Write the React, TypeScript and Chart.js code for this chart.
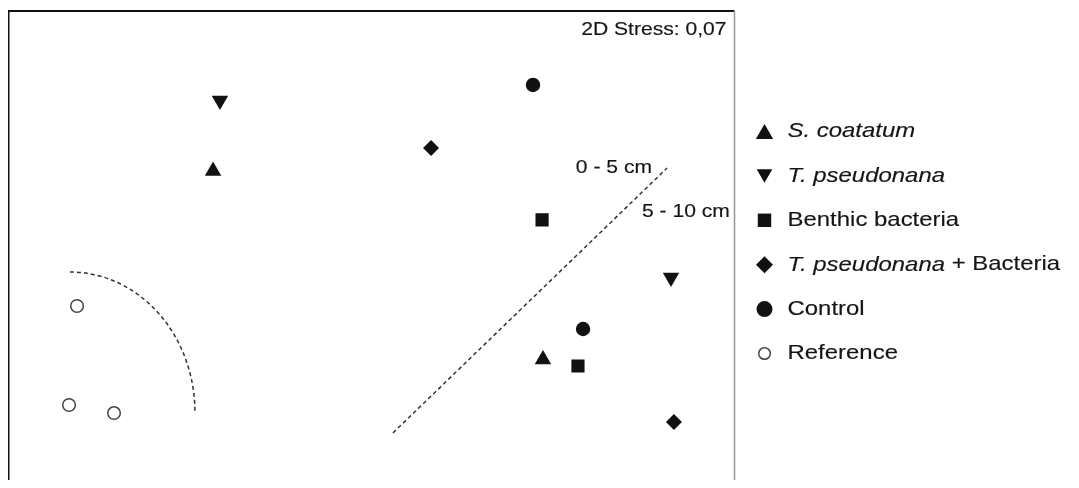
import React, { useEffect, useRef } from 'react';
import { Chart, registerables } from 'chart.js';
import { drawPoint } from 'chart.js/helpers';

Chart.register(...registerables);

// NMDS coordinates (arbitrary units)
const sCoatatum = [{ x: -0.875, y: 0.43 }, { x: 0.944, y: -0.595 }];
const tPseudonana = [{ x: -0.837, y: 0.813 }, { x: 1.65, y: -0.149 }];
const benthicBacteria = [{ x: 0.939, y: 0.164 }, { x: 1.137, y: -0.63 }];
const tpPlusBacteria = [{ x: 0.327, y: 0.555 }, { x: 1.666, y: -0.935 }];
const control = [{ x: 0.889, y: 0.898 }, { x: 1.165, y: -0.429 }];
const reference = [{ x: -1.625, y: -0.304 }, { x: -1.669, y: -0.842 }, { x: -1.421, y: -0.886 }];

// depth separation line (0-5 cm / 5-10 cm)
const depthLine = [{ x: 0.117, y: -0.994 }, { x: 1.628, y: 0.446 }];
// reference group boundary: quarter ellipse (center, radii in data units)
const refArc = { cx: -1.664, cy: -0.88, rx: 0.689, ry: 0.761 };

const stressLabel = '2D Stress: 0,07';
const depthLabels = ['0 - 5 cm', '5 - 10 cm'];

const legendParts = [
  [{ t: 'S. coatatum', i: true }],
  [{ t: 'T. pseudonana', i: true }],
  [{ t: 'Benthic bacteria', i: false }],
  [{ t: 'T. pseudonana', i: true }, { t: ' + Bacteria', i: false }],
  [{ t: 'Control', i: false }],
  [{ t: 'Reference', i: false }],
];
const legendMarkerRadius = [10, 9, 9.5, 8.5, 8, 5.8];

const FONT = '"Liberation Sans", Arial, sans-serif';
const STRETCH = 1.14;
const TEXT_COLOR = '#151515';

function stretchedText(ctx: CanvasRenderingContext2D, text: string, x: number, y: number, font: string, align: CanvasTextAlign) {
  ctx.save();
  ctx.font = font;
  ctx.fillStyle = TEXT_COLOR;
  ctx.strokeStyle = TEXT_COLOR;
  ctx.lineWidth = 0.15;
  ctx.textBaseline = 'middle';
  ctx.textAlign = align;
  ctx.translate(x, y);
  ctx.scale(STRETCH, 1);
  ctx.fillText(text, 0, 0);
  ctx.strokeText(text, 0, 0);
  const w = ctx.measureText(text).width * STRETCH;
  ctx.restore();
  return w;
}

const decorPlugin = {
  id: 'decor',
  afterDatasetsDraw(chart: any) {
    const ctx: CanvasRenderingContext2D = chart.ctx;
    const { left, top, right } = chart.chartArea;
    const xs = chart.scales.x;
    const ys = chart.scales.y;

    // frame (top, left, right)
    ctx.save();
    ctx.strokeStyle = '#111';
    ctx.lineWidth = 2;
    ctx.beginPath();
    ctx.moveTo(left - 0.5, chart.height + 5);
    ctx.lineTo(left - 0.5, top);
    ctx.lineTo(right, top);
    ctx.stroke();
    ctx.strokeStyle = '#999';
    ctx.lineWidth = 1.5;
    ctx.beginPath();
    ctx.moveTo(right, top);
    ctx.lineTo(right, chart.height + 5);
    ctx.stroke();
    ctx.restore();

    // reference arc
    ctx.save();
    ctx.strokeStyle = '#333';
    ctx.lineWidth = 1.5;
    ctx.setLineDash([4, 3]);
    const cx = xs.getPixelForValue(refArc.cx);
    const cy = ys.getPixelForValue(refArc.cy);
    const rx = xs.getPixelForValue(refArc.cx + refArc.rx) - cx;
    const ry = cy - ys.getPixelForValue(refArc.cy + refArc.ry);
    ctx.beginPath();
    ctx.ellipse(cx, cy, rx, ry, 0, -Math.PI / 2, 0);
    ctx.stroke();
    ctx.restore();

    // annotations
    const smallFont = `18.5px ${FONT}`;
    stretchedText(ctx, stressLabel, right - 8, top + 19, smallFont, 'right');
    const ex = xs.getPixelForValue(depthLine[1].x);
    const ey = ys.getPixelForValue(depthLine[1].y);
    stretchedText(ctx, depthLabels[0], ex - 15, ey, smallFont, 'right');
    stretchedText(ctx, depthLabels[1], ex - 25, ey + 44, smallFont, 'left');

    // legend
    const lx = right + 30;
    const ly0 = top + 120.5;
    const step = 44.4;
    const pointSets = chart.data.datasets.filter((d: any) => d.isGroup);
    pointSets.forEach((ds: any, i: number) => {
      const y = ly0 + i * step;
      ctx.save();
      ctx.fillStyle = ds.backgroundColor;
      ctx.strokeStyle = ds.borderColor;
      ctx.lineWidth = ds.borderWidth;
      const r = legendMarkerRadius[i];
      const dy = ds.pointStyle === 'triangle' ? (ds.rotation ? -r / 4 : r / 4) : 0;
      drawPoint(ctx, { pointStyle: ds.pointStyle, rotation: ds.rotation || 0, radius: r, borderWidth: ds.borderWidth }, lx, y + dy);
      ctx.restore();
      let tx = lx + 23;
      legendParts[i].forEach((p) => {
        const f = `${p.i ? 'italic ' : ''}21px ${FONT}`;
        tx += stretchedText(ctx, p.t, tx, y, f, 'left');
      });
    });
  },
};

export default function App() {
  const ref = useRef<HTMLCanvasElement | null>(null);
  useEffect(() => {
    if (!ref.current) return;
    const mk = (label: string, data: any[], pointStyle: string, radius: number, extra: any = {}) => ({
      label,
      data,
      isGroup: true,
      pointStyle,
      pointRadius: radius,
      pointHoverRadius: radius,
      backgroundColor: '#111',
      borderColor: '#111',
      borderWidth: 0,
      ...extra,
    });
    const chart = new Chart(ref.current, {
      type: 'scatter',
      data: {
        datasets: [
          {
            label: 'depth',
            type: 'line',
            data: depthLine,
            borderColor: '#333',
            borderWidth: 1.5,
            borderDash: [4, 3],
            pointRadius: 0,
            fill: false,
          } as any,
          mk('S. coatatum', sCoatatum, 'triangle', 9.5),
          mk('T. pseudonana', tPseudonana, 'triangle', 9.5, { rotation: 180 }),
          mk('Benthic bacteria', benthicBacteria, 'rect', 9.3),
          mk('T. pseudonana + Bacteria', tpPlusBacteria, 'rectRot', 8),
          mk('Control', control, 'circle', 7.2),
          mk('Reference', reference, 'circle', 6.3, { backgroundColor: '#fff', borderColor: '#444', borderWidth: 1.5 }),
        ],
      },
      options: {
        animation: false,
        responsive: true,
        maintainAspectRatio: false,
        layout: { autoPadding: false, padding: { left: 1, top: 3, right: 344.5, bottom: 0 } },
        plugins: { legend: { display: false }, tooltip: { enabled: false } },
        scales: {
          x: { type: 'linear', min: -2, max: 2, display: false },
          y: { type: 'linear', min: -1.25, max: 1.3, display: false },
        },
      },
      plugins: [decorPlugin],
    });
    return () => chart.destroy();
  }, []);
  return (
    <div style={{ width: 1071, height: 472, position: 'relative' }}>
      <canvas ref={ref} />
    </div>
  );
}
